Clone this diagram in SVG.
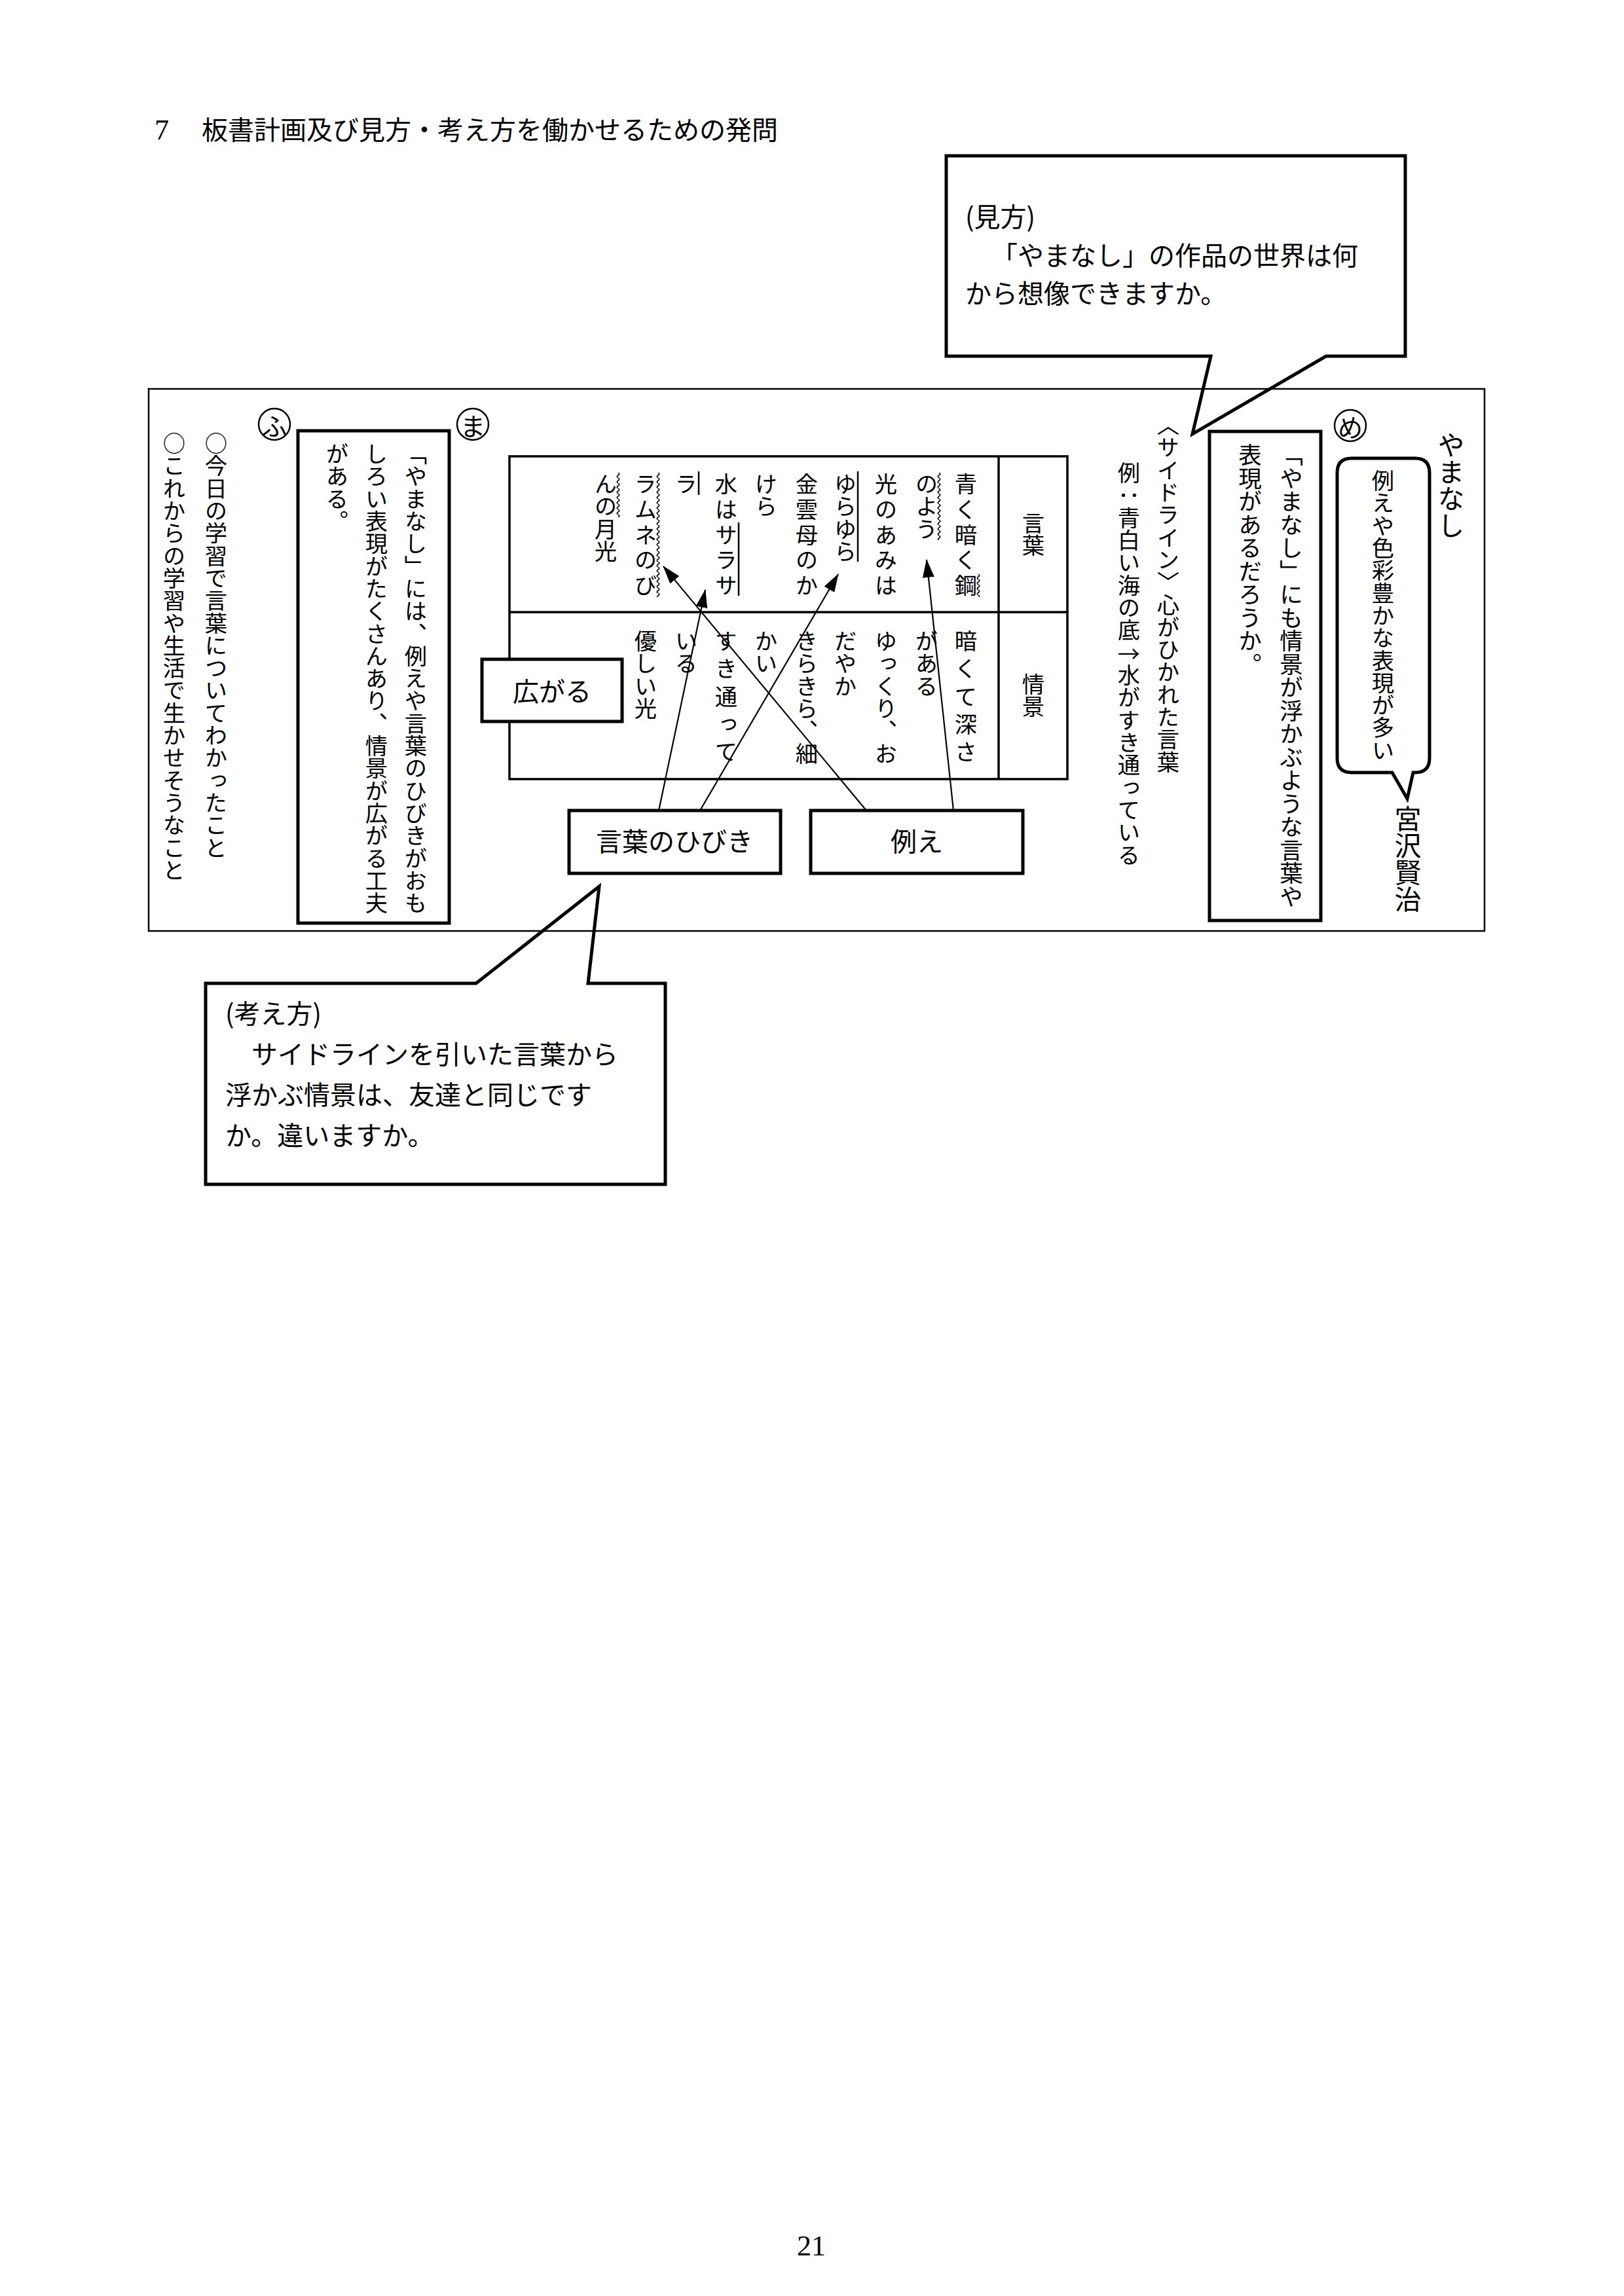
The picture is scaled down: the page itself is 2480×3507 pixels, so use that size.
<svg xmlns="http://www.w3.org/2000/svg" width="2480" height="3507" viewBox="0 0 2480 3507">
<style>
text{font-family:'Noto Sans CJK JP','Noto Sans CJK SC',sans-serif;fill:#000}
.v{writing-mode:vertical-rl;font-size:34.3px}
.vl{writing-mode:vertical-rl;font-size:41px}
.h{font-size:40px}
.box{fill:#fff;stroke:#000;stroke-width:5}
.call{fill:#fff;stroke:#000;stroke-width:5;stroke-linejoin:miter}
.circ{fill:none;stroke:#000;stroke-width:2.5}
.cl{font-size:38px;text-anchor:middle;dominant-baseline:central}
.arrow{stroke:#000;stroke-width:2.2;fill:none;marker-end:url(#ah)}
.side{stroke:#000;stroke-width:2.5}
.tbl{fill:none;stroke:#000;stroke-width:3.5}
</style>
<defs>
<marker id="ah" markerWidth="28" markerHeight="20" refX="27" refY="9" orient="auto" markerUnits="userSpaceOnUse"><path d="M0,0 L28,9 L0,18 Z" fill="#000"/></marker>
<pattern id="wv" width="8" height="8" patternUnits="userSpaceOnUse"><path d="M4,0 Q7.5,2 4,4 Q0.5,6 4,8" fill="none" stroke="#000" stroke-width="1.5"/></pattern>
</defs>
<rect width="2480" height="3507" fill="#fff"/>

<g id="title">
<text x="236" y="213" style="font-family:'Liberation Serif',serif;font-size:44px">7</text>
<text x="308" y="213" class="h">板書計画及び見方・考え方を働かせるための発問</text>
</g>

<g id="callout-mikata">
<path class="call" d="M1445,238 H2146 V544 H2025 L1821,663 L1849,544 H1445 Z"/>
<text class="h" x="1474" y="346">(見方)</text>
<text class="h" x="1514" y="405">「やまなし」の作品の世界は何</text>
<text class="h" x="1474" y="463">から想像できますか。</text>
</g>

<g id="callout-kangaekata">
<path class="call" d="M314,1502 H727 L915,1354 L898,1502 H1016 V1809 H314 Z"/>
<text class="h" x="344" y="1563">(考え方)</text>
<text class="h" x="384" y="1625">サイドラインを引いた言葉から</text>
<text class="h" x="344" y="1687">浮かぶ情景は、友達と同じです</text>
<text class="h" x="344" y="1749">か。違いますか。</text>
</g>

<g id="board">
<rect x="227" y="594" width="2040" height="828" fill="none" stroke="#000" stroke-width="2.5"/>
</g>

<g id="section-me">
<circle class="circ" cx="2062" cy="650" r="24"/>
<text class="cl" x="2062" y="650">め</text>
<text class="vl" x="2216" y="659">やまなし</text>
<path class="box" d="M2064,700 H2161 Q2183,700 2183,722 V1158 Q2183,1180 2161,1180 H2158 L2149,1220 L2126,1180 H2064 Q2042,1180 2042,1158 V722 Q2042,700 2064,700 Z"/>
<text class="v" x="2112" y="717">例えや色彩豊かな表現が多い</text>
<text class="vl" x="2150" y="1230">宮沢賢治</text>
<rect class="box" x="1847" y="659" width="170" height="747"/>
<text class="v" x="1972" y="677" style="font-size:35.5px">「やまなし」にも情景が浮かぶような言葉や</text>
<text class="v" x="1909" y="677" style="font-size:35.5px">表現があるだろうか。</text>
<text class="v" x="1784" y="632">〈サイドライン〉心がひかれた言葉</text>
<g id="example-line">
<text class="v" x="1724" y="705">例：青白い海の底</text>
<text x="1724" y="997" text-anchor="middle" dominant-baseline="central" style="font-size:34.3px">→</text>
<text class="v" x="1724" y="1014">水がすき通っている</text>
</g>
</g>

<g id="section-ma">
<circle class="circ" cx="722" cy="648" r="24"/>
<text class="cl" x="722" y="648">ま</text>
<g id="table">
<rect class="tbl" x="778" y="697" width="852" height="493"/>
<line class="tbl" x1="778" y1="935" x2="1630" y2="935"/>
<line class="tbl" x1="1525" y1="697" x2="1525" y2="1190"/>
<text class="v" x="1578" y="816" text-anchor="middle">言葉</text>
<text class="v" x="1578" y="1062" text-anchor="middle">情景</text>
<text class="v" x="1475" y="722" style="letter-spacing:4.4px">青く暗く鋼</text>
<text class="v" x="1415" y="722">のよう</text>
<text class="v" x="1353" y="722" style="letter-spacing:4.4px">光のあみは</text>
<text class="v" x="1291" y="722">ゆらゆら</text>
<text class="v" x="1232" y="722" style="letter-spacing:4.4px">金雲母のか</text>
<text class="v" x="1170" y="722">けら</text>
<text class="v" x="1109" y="722" style="letter-spacing:4.4px">水はサラサ</text>
<text class="v" x="1048" y="722">ラ</text>
<text class="v" x="986" y="722" style="letter-spacing:4.4px">ラムネのび</text>
<text class="v" x="925" y="722">んの月光</text>
<text class="v" x="1475" y="962" style="letter-spacing:8px">暗くて深さ</text>
<text class="v" x="1415" y="962">がある</text>
<text class="v" x="1353" y="962">ゆっくり、お</text>
<text class="v" x="1291" y="962">だやか</text>
<text class="v" x="1232" y="962">きらきら、細</text>
<text class="v" x="1170" y="962">かい</text>
<text class="v" x="1109" y="962" style="letter-spacing:8px">すき通って</text>
<text class="v" x="1048" y="962">いる</text>
<text class="v" x="986" y="962">優しい光</text>
<g id="sidelines">
<rect transform="translate(1490,877)" width="8" height="35" fill="url(#wv)"/>
<rect transform="translate(1430,722)" width="8" height="103" fill="url(#wv)"/>
<rect transform="translate(1001,722)" width="8" height="190" fill="url(#wv)"/>
<rect transform="translate(940,722)" width="8" height="68" fill="url(#wv)"/>
<line class="side" x1="1310" y1="720" x2="1310" y2="858"/>
<line class="side" x1="1128" y1="798" x2="1128" y2="910"/>
<line class="side" x1="1067" y1="720" x2="1067" y2="756"/>
</g>
</g>
<g id="node-hirogaru">
<rect class="box" x="736" y="1007" width="214" height="95"/>
<text class="h" x="843" y="1071" text-anchor="middle">広がる</text>
</g>
<g id="node-hibiki">
<rect class="box" x="869" y="1238" width="323" height="96"/>
<text class="h" x="1030" y="1300" text-anchor="middle">言葉のひびき</text>
</g>
<g id="node-tatoe">
<rect class="box" x="1238" y="1238" width="324" height="96"/>
<text class="h" x="1400" y="1300" text-anchor="middle">例え</text>
</g>
</g>

<g id="connectors">
<line class="arrow" x1="1006" y1="1238" x2="1077" y2="901"/>
<line class="arrow" x1="1069" y1="1238" x2="1280" y2="877"/>
<line class="arrow" x1="1323" y1="1238" x2="1013" y2="865"/>
<line class="arrow" x1="1456" y1="1238" x2="1415" y2="855"/>
</g>

<g id="section-fu">
<circle class="circ" cx="419" cy="648" r="24"/>
<text class="cl" x="419" y="648">ふ</text>
<rect class="box" x="455" y="658" width="231" height="752"/>
<text class="v" x="635" y="676">「やまなし」には、例えや言葉のひびきがおも</text>
<text class="v" x="575" y="676">しろい表現がたくさんあり、情景が広がる工夫</text>
<text class="v" x="515" y="676">がある。</text>
<text class="v" x="330" y="660">○今日の学習で言葉についてわかったこと</text>
<text class="v" x="266" y="660">○これからの学習や生活で生かせそうなこと</text>
</g>

<text x="1239" y="3445" text-anchor="middle" style="font-family:'Liberation Serif',serif;font-size:44px">21</text>
</svg>
